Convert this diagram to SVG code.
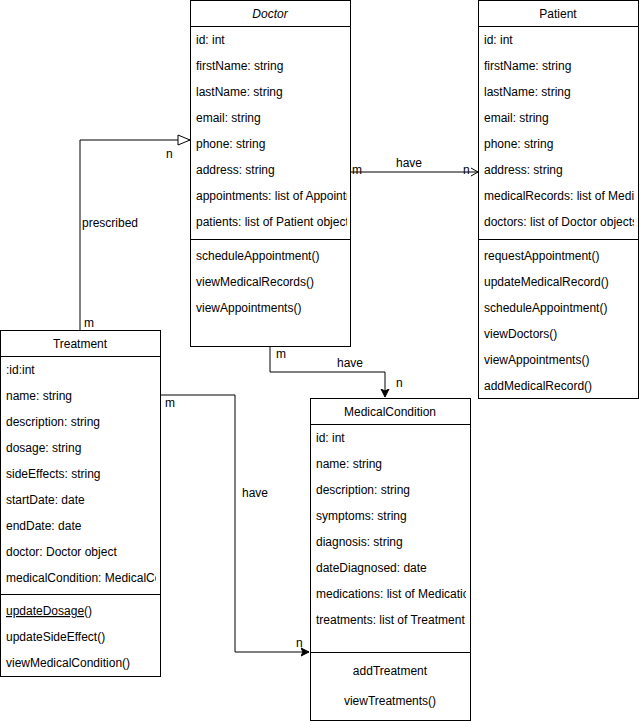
<svg xmlns="http://www.w3.org/2000/svg" width="640" height="721" viewBox="0 0 640 721">
<style>
text{font-family:"Liberation Sans",Arial,sans-serif;font-size:12px;fill:#000}
.box{fill:#fff;stroke:#000;stroke-width:1}
.ln{fill:none;stroke:#000;stroke-width:1}
.t{text-anchor:middle}
</style>
<defs>
<marker id="tri" markerWidth="14" markerHeight="12" refX="13" refY="6" orient="auto" markerUnits="userSpaceOnUse"><path d="M1,1 L13,6 L1,11 Z" fill="#fff" stroke="#000"/></marker>
<marker id="open" markerWidth="10" markerHeight="10" refX="8" refY="5" orient="auto" markerUnits="userSpaceOnUse"><path d="M1,1 L8,5 L1,9" fill="none" stroke="#000"/></marker>
<marker id="fill" markerWidth="10" markerHeight="10" refX="8" refY="5" orient="auto" markerUnits="userSpaceOnUse"><path d="M0,1 L8,5 L0,9 L2,5 Z" fill="#000" stroke="#000"/></marker>
<clipPath id="cD"><rect x="190" y="0" width="157" height="346"/></clipPath>
<clipPath id="cP"><rect x="478" y="0" width="156" height="398"/></clipPath>
<clipPath id="cT"><rect x="0" y="330" width="156" height="346"/></clipPath>
<clipPath id="cM"><rect x="310" y="398" width="156" height="322"/></clipPath>
</defs>
<g id="connectors">
<path class="ln" d="M80,330 V140 H190" marker-end="url(#tri)"/>
<text x="82" y="227">prescribed</text>
<text x="84" y="327">m</text>
<text x="166" y="158">n</text>
<path class="ln" d="M351,172 H478" marker-end="url(#open)"/>
<text x="396" y="167">have</text>
<text x="352" y="174">m</text>
<text x="463" y="174">n</text>
<path class="ln" d="M270,346 V372 H385 V397" marker-end="url(#fill)"/>
<text x="276" y="358">m</text>
<text x="337" y="367">have</text>
<text x="396" y="387">n</text>
<path class="ln" d="M160,395 H235 V652 H309" marker-end="url(#fill)"/>
<text x="165" y="407">m</text>
<text x="242" y="497">have</text>
<text x="296" y="647">n</text>
</g>
<g id="Doctor">
<rect class="box" x="190.5" y="0.5" width="160" height="346"/>
<line class="ln" x1="190.5" y1="26.5" x2="350.5" y2="26.5"/>
<line class="ln" x1="190.5" y1="239.5" x2="350.5" y2="239.5"/>
<g clip-path="url(#cD)">
<text class="t" x="270" y="18" font-style="italic">Doctor</text>
<text x="196" y="44">id: int</text>
<text x="196" y="70">firstName: string</text>
<text x="196" y="96">lastName: string</text>
<text x="196" y="122">email: string</text>
<text x="196" y="148">phone: string</text>
<text x="196" y="174">address: string</text>
<text x="196" y="200">appointments: list of Appointment objects</text>
<text x="196" y="226">patients: list of Patient objects</text>
<text x="196" y="260">scheduleAppointment()</text>
<text x="196" y="286">viewMedicalRecords()</text>
<text x="196" y="312">viewAppointments()</text>
</g>
</g>
<g id="Patient">
<rect class="box" x="478.5" y="0.5" width="160" height="398"/>
<line class="ln" x1="478.5" y1="26.5" x2="638.5" y2="26.5"/>
<line class="ln" x1="478.5" y1="239.5" x2="638.5" y2="239.5"/>
<g clip-path="url(#cP)">
<text class="t" x="558" y="18">Patient</text>
<text x="484" y="44">id: int</text>
<text x="484" y="70">firstName: string</text>
<text x="484" y="96">lastName: string</text>
<text x="484" y="122">email: string</text>
<text x="484" y="148">phone: string</text>
<text x="484" y="174">address: string</text>
<text x="484" y="200">medicalRecords: list of MedicalRecord objects</text>
<text x="484" y="226">doctors: list of Doctor objects</text>
<text x="484" y="260">requestAppointment()</text>
<text x="484" y="286">updateMedicalRecord()</text>
<text x="484" y="312">scheduleAppointment()</text>
<text x="484" y="338">viewDoctors()</text>
<text x="484" y="364">viewAppointments()</text>
<text x="484" y="390">addMedicalRecord()</text>
</g>
</g>
<g id="Treatment">
<rect class="box" x="0.5" y="330.5" width="160" height="346"/>
<line class="ln" x1="0.5" y1="356.5" x2="160.5" y2="356.5"/>
<line class="ln" x1="0.5" y1="594.5" x2="160.5" y2="594.5"/>
<g clip-path="url(#cT)">
<text class="t" x="80" y="348">Treatment</text>
<text x="6" y="374">:id:int</text>
<text x="6" y="400">name: string</text>
<text x="6" y="426">description: string</text>
<text x="6" y="452">dosage: string</text>
<text x="6" y="478">sideEffects: string</text>
<text x="6" y="504">startDate: date</text>
<text x="6" y="530">endDate: date</text>
<text x="6" y="556">doctor: Doctor object</text>
<text x="6" y="582">medicalCondition: MedicalCondition object</text>
<text x="6" y="615"><tspan text-decoration="underline">updateDosage</tspan>()</text>
<text x="6" y="641">updateSideEffect()</text>
<text x="6" y="667">viewMedicalCondition()</text>
</g>
</g>
<g id="MedicalCondition">
<rect class="box" x="310.5" y="398.5" width="160" height="322"/>
<line class="ln" x1="310.5" y1="424.5" x2="470.5" y2="424.5"/>
<line class="ln" x1="310.5" y1="652.5" x2="470.5" y2="652.5"/>
<g clip-path="url(#cM)">
<text class="t" x="390" y="416">MedicalCondition</text>
<text x="316" y="442">id: int</text>
<text x="316" y="468">name: string</text>
<text x="316" y="494">description: string</text>
<text x="316" y="520">symptoms: string</text>
<text x="316" y="546">diagnosis: string</text>
<text x="316" y="572">dateDiagnosed: date</text>
<text x="316" y="598">medications: list of Medication objects</text>
<text x="316" y="624">treatments: list of Treatment objects</text>
<text class="t" x="390" y="675">addTreatment</text>
<text class="t" x="390" y="705">viewTreatments()</text>
</g>
</g>
</svg>
